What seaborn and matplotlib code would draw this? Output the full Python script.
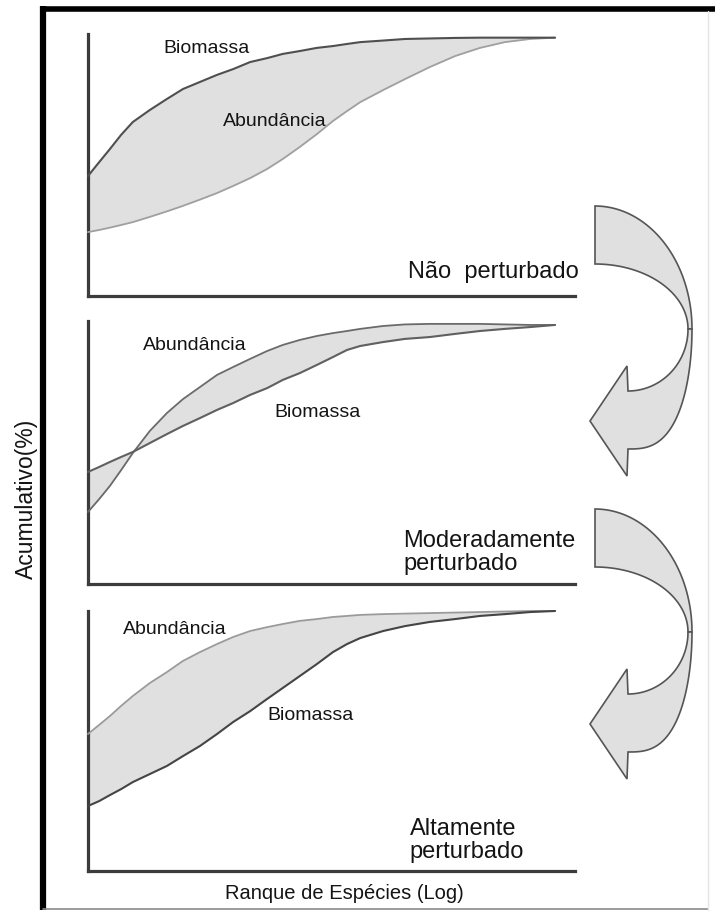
import numpy as np
import pandas as pd
import matplotlib
matplotlib.use("Agg")
import matplotlib.pyplot as plt
from matplotlib.patches import Polygon
from matplotlib.lines import Line2D
from matplotlib.transforms import Affine2D
import seaborn as sns

sns.set_theme(style="white")
plt.rcParams['font.family'] = ['Liberation Sans', 'DejaVu Sans']

## Data (x = log rank normalised, y = cumulative %)
rank = [0, 0.023, 0.045, 0.068, 0.092, 0.127, 0.162, 0.195, 0.230, 0.265, 0.298, 0.333, 0.368, 0.400,
        0.435, 0.470, 0.503, 0.532, 0.559, 0.606, 0.651, 0.702, 0.754, 0.805, 0.856, 0.908, 0.959]

biomassa_nao = [45.8, 51.1, 56.1, 61.5, 66.4, 71.0, 75.2, 79.0, 81.7, 84.4, 86.6, 89.3, 90.8, 92.4,
                93.5, 94.7, 95.4, 96.2, 96.9, 97.5, 98.1, 98.3, 98.5, 98.6, 98.6, 98.6, 98.6]
abund_nao = [24.4, 25.2, 26.1, 27.1, 28.2, 30.2, 32.3, 34.4, 36.8, 39.3, 42.0, 45.0, 48.5, 52.3,
             56.9, 61.8, 66.8, 70.6, 74.0, 78.6, 82.8, 87.4, 91.6, 94.7, 96.9, 98.1, 98.6]

biomassa_mod = [42.6, 44.5, 46.4, 48.3, 50.2, 53.6, 57.0, 60.1, 63.1, 66.2, 68.8, 71.9, 74.5, 77.6,
                80.2, 83.3, 86.3, 89.0, 90.5, 92.0, 93.2, 93.9, 95.1, 96.2, 97.0, 97.7, 98.5]
abund_mod = [27.4, 32.3, 37.3, 43.3, 49.8, 58.2, 65.0, 70.3, 74.9, 79.5, 82.5, 85.6, 88.6, 90.9,
             92.8, 94.3, 95.4, 96.2, 97.0, 98.1, 98.7, 98.9, 98.9, 98.9, 98.7, 98.5, 98.5]

biomassa_alt = [25.0, 26.9, 29.2, 31.5, 34.2, 37.3, 40.4, 44.2, 48.1, 52.7, 57.3, 61.5, 66.2, 70.4,
                75.0, 79.6, 84.2, 87.3, 89.6, 92.3, 94.2, 95.8, 96.9, 98.1, 98.8, 99.6, 100.0]
abund_alt = [52.7, 56.2, 59.6, 63.5, 67.3, 72.3, 76.5, 80.8, 84.2, 87.3, 90.0, 92.3, 93.8, 95.0,
             96.2, 96.9, 97.7, 98.1, 98.5, 98.8, 99.0, 99.2, 99.4, 99.6, 99.8, 100.0, 100.0]

estados = ["Não  perturbado", "Moderadamente\nperturbado", "Altamente\nperturbado"]

W, H = 715, 912
fig = plt.figure(figsize=(W / 100, H / 100), dpi=100)
fig.patch.set_facecolor("white")
px = Affine2D().scale(1 / W, -1 / H).translate(0, 1) + fig.transFigure

TXT = "#141414"
FILL = "#e0e0e0"

# panel settings: (top px, bottom px, biomassa, abundancia, colors, label positions)
panels = [
    (35, 297, biomassa_nao, abund_nao, ("#4f4f4f", "#a0a0a0"),
     (0.244, 95.0), (0.384, 66.8), (0.657, 9.5)),
    (322, 585, biomassa_mod, abund_mod, ("#606060", "#6a6a6a"),
     (0.472, 65.4), (0.220, 90.9), (0.647, 12.3)),
    (612, 872, biomassa_alt, abund_alt, ("#454545", "#9a9a9a"),
     (0.456, 60.0), (0.179, 93.1), (0.661, 12.0)),
]

for i, (top, bot, bio, abu, cols, pos_bio, pos_abu, pos_est) in enumerate(panels):
    ax = fig.add_axes([88 / W, 1 - bot / H, 487 / W, (bot - top) / H])
    ax.set_facecolor("none")
    df = pd.DataFrame({"rank": rank, "Biomassa": bio, "Abundância": abu})

    ax.fill_between(df["rank"], df["Biomassa"], df["Abundância"], color=FILL, lw=0, zorder=1)
    sns.lineplot(data=df, x="rank", y="Abundância", ax=ax, color=cols[1], lw=1.3, zorder=3)
    sns.lineplot(data=df, x="rank", y="Biomassa", ax=ax, color=cols[0], lw=1.5, zorder=4)
    for line in ax.lines:
        line.set_clip_on(False)

    ax.set_xlim(0, 1)
    ax.set_ylim(0, 100)
    ax.set_xticks([])
    ax.set_yticks([])
    ax.set_xlabel("")
    ax.set_ylabel("")
    for s in ["top", "right"]:
        ax.spines[s].set_visible(False)
    for s in ["left", "bottom"]:
        ax.spines[s].set_linewidth(2.3)
        ax.spines[s].set_color("#3c3c3c")

    ax.text(*pos_bio, "Biomassa", ha="center", va="center", fontsize=14, color=TXT)
    ax.text(*pos_abu, "Abundância", ha="center", va="center", fontsize=14, color=TXT)
    ax.text(*pos_est, estados[i], ha="left", va="center", fontsize=17, color=TXT,
            linespacing=1.05)


## curved (twisted) arrows between panels
def curved_arrow(dy):
    cy = 330 + dy
    t = np.linspace(0, np.pi / 2, 60)
    outer = np.c_[595 + 97 * np.cos(t), cy - 123 * np.sin(t)]
    inner = np.c_[595 + 93 * np.cos(t), cy - 65 * np.sin(t)]
    upper = np.vstack([outer, inner[::-1]])
    fig.add_artist(Polygon(upper, closed=True, transform=px, facecolor=FILL,
                           edgecolor="#555555", lw=1.2))

    inner2 = np.c_[628 + 60 * np.cos(t), cy + 62 * np.sin(t)]
    outer2 = np.c_[628 + 64 * np.cos(t) ** 0.7, cy + 120 * np.sin(t)]
    head = np.array([[627, cy + 37], [590, cy + 92], [627, cy + 147]])
    lower = np.vstack([inner2, head, outer2[::-1]])
    fig.add_artist(Polygon(lower, closed=True, transform=px, facecolor=FILL,
                           edgecolor="#555555", lw=1.2))


curved_arrow(0)
curved_arrow(303)

## outer frame
fig.add_artist(Line2D([43, 43], [7, 911], transform=px, color="black", lw=4.5,
                      solid_capstyle="butt"))
fig.add_artist(Line2D([41, 715], [9.5, 9.5], transform=px, color="black", lw=4,
                      solid_capstyle="butt"))
fig.add_artist(Line2D([43, 708], [910.5, 910.5], transform=px, color="#8a8a8a", lw=1.2))
fig.add_artist(Line2D([708, 708], [12, 911], transform=px, color="#e4e4e4", lw=1))

## axis titles
fig.text(26 / W, 1 - 499 / H, "Acumulativo(%)", rotation=90, ha="center", va="center",
         fontsize=16.5, color=TXT)
fig.text(344 / W, 1 - 894 / H, "Ranque de Espécies (Log)", ha="center", va="center",
         fontsize=14.5, color=TXT)

fig.savefig("out.png", dpi=100, facecolor="white")
